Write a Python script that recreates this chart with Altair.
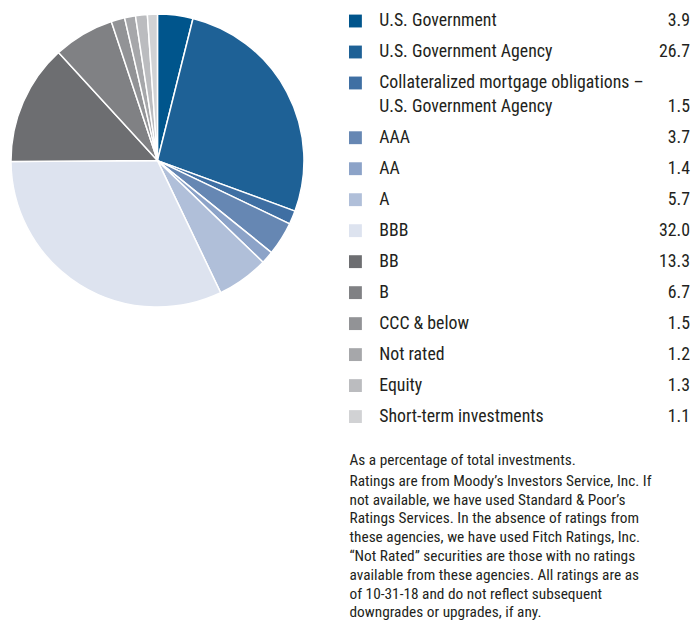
import altair as alt
import pandas as pd

# ---- data ----
categories = [
    "U.S. Government",
    "U.S. Government Agency",
    "Collateralized mortgage obligations – U.S. Government Agency",
    "AAA",
    "AA",
    "A",
    "BBB",
    "BB",
    "B",
    "CCC & below",
    "Not rated",
    "Equity",
    "Short-term investments",
]
label_lines = [
    ["U.S. Government"],
    ["U.S. Government Agency"],
    ["Collateralized mortgage obligations –", "U.S. Government Agency"],
    ["AAA"],
    ["AA"],
    ["A"],
    ["BBB"],
    ["BB"],
    ["B"],
    ["CCC & below"],
    ["Not rated"],
    ["Equity"],
    ["Short-term investments"],
]
values = [3.9, 26.7, 1.5, 3.7, 1.4, 5.7, 32.0, 13.3, 6.7, 1.5, 1.2, 1.3, 1.1]
colors = [
    "#00558C", "#1E6196", "#3F6FA3", "#6687B3", "#8CA3C8", "#B0BFD9",
    "#DDE3EF", "#6D6E71", "#808184", "#929396", "#A6A7AA", "#BBBCBF", "#D1D2D4",
]
footnote_first = "As a percentage of total investments."
footnote_lines = [
    "Ratings are from Moody’s Investors Service, Inc. If",
    "not available, we have used Standard & Poor’s",
    "Ratings Services. In the absence of ratings from",
    "these agencies, we have used Fitch Ratings, Inc.",
    "“Not Rated” securities are those with no ratings",
    "available from these agencies. All ratings are as",
    "of 10-31-18 and do not reflect subsequent",
    "downgrades or upgrades, if any.",
]

# ---- layout constants ----
W, H = 688, 612
ROW0, ROWH, LINEH = 7.0, 31.3, 24.0
FOOT0, FOOTGAP, FOOTH = 451.0, 20.5, 19.0
FONT = "Roboto Condensed, DejaVu Sans Condensed, sans-serif"
TXT = "#231F20"

# build tables
pie_rows, sq_rows, lab_rows, val_rows = [], [], [], []
extra = 0.0
for i, (cat, lines, v) in enumerate(zip(categories, label_lines, values)):
    y0 = ROW0 + i * ROWH + extra
    pie_rows.append({"idx": i, "category": cat, "value": v})
    sq_rows.append({"category": cat, "y": y0})
    for k, ln in enumerate(lines):
        lab_rows.append({"line": ln, "y": y0 + k * LINEH})
    val_rows.append({"txt": f"{v:.1f}", "y": y0 + (len(lines) - 1) * LINEH})
    extra += (len(lines) - 1) * LINEH

foot_rows = [{"line": footnote_first, "y": FOOT0}]
for k, ln in enumerate(footnote_lines):
    foot_rows.append({"line": ln, "y": FOOT0 + FOOTGAP + k * FOOTH})

pie_df = pd.DataFrame(pie_rows)
sq_df = pd.DataFrame(sq_rows)
lab_df = pd.DataFrame(lab_rows)
val_df = pd.DataFrame(val_rows)
foot_df = pd.DataFrame(foot_rows)

color_scale = alt.Scale(domain=categories, range=colors)
yscale = alt.Scale(domain=[0, H], range=[0, H], zero=False, nice=False)

pie = alt.Chart(pie_df).mark_arc(outerRadius=148, stroke="white", strokeWidth=1.5).encode(
    theta=alt.Theta("value:Q", stack=True),
    order=alt.Order("idx:Q"),
    color=alt.Color("category:N", scale=color_scale, legend=None),
    x=alt.value(148),
    y=alt.value(148),
)

squares = alt.Chart(sq_df).mark_square(size=169, opacity=1, filled=True).encode(
    x=alt.value(348),
    y=alt.Y("y:Q", scale=yscale, axis=None),
    color=alt.Color("category:N", scale=color_scale, legend=None),
)

labels = alt.Chart(lab_df).mark_text(
    align="left", baseline="middle", font=FONT, fontSize=18, color=TXT
).encode(
    x=alt.value(372),
    y=alt.Y("y:Q", scale=yscale, axis=None),
    text="line:N",
)

vals = alt.Chart(val_df).mark_text(
    align="right", baseline="middle", font=FONT, fontSize=18, color=TXT
).encode(
    x=alt.value(686),
    y=alt.Y("y:Q", scale=yscale, axis=None),
    text="txt:N",
)

foot = alt.Chart(foot_df).mark_text(
    align="left", baseline="middle", font=FONT, fontSize=15.5, color=TXT
).encode(
    x=alt.value(342),
    y=alt.Y("y:Q", scale=yscale, axis=None),
    text="line:N",
)

chart = alt.layer(pie, squares, labels, vals, foot).properties(
    width=W, height=H, padding=0
).configure_view(stroke=None)

chart.save("out.html", embed_options={"renderer": "svg", "actions": False})
